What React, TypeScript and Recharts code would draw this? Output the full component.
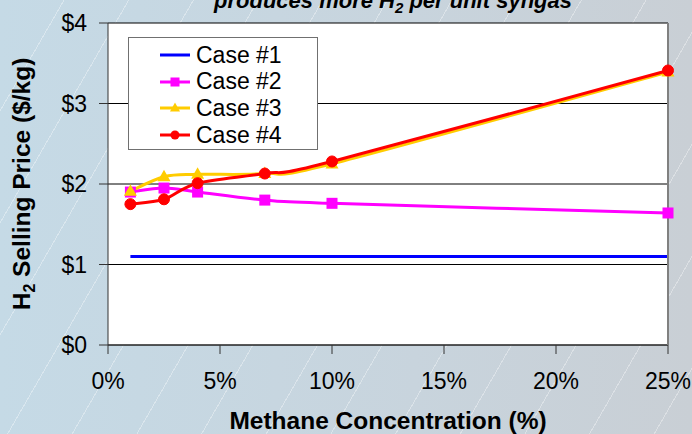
import { LineChart, Line, XAxis, YAxis, CartesianGrid, Legend, Label } from 'recharts';

const FONT = '"Liberation Sans", Arial, sans-serif';

// methane concentration (%) at each point
const methane = [1, 2.5, 4, 7, 10, 25];
// H2 selling price ($/kg)
const case1 = [1.1, 1.1, 1.1, 1.1, 1.1, 1.1];
const case2 = [1.9, 1.95, 1.9, 1.8, 1.76, 1.64];
const case3 = [1.91, 2.09, 2.12, 2.13, 2.25, 3.39];
const case4 = [1.75, 1.81, 2.01, 2.13, 2.28, 3.41];

const seriesNames = ['Case #1', 'Case #2', 'Case #3', 'Case #4'];
const seriesColors = ['#0000ff', '#ff00ff', '#ffcc00', '#ff0000'];

const xTicks = [0, 5, 10, 15, 20, 25];
const yTicks = [0, 1, 2, 3, 4];

const rows = methane.map((m, i) => ({
  methane: m,
  c1: case1[i],
  c2: case2[i],
  c3: case3[i],
  c4: case4[i],
}));

// Excel-style smoothed line (Catmull-Rom through the points)
const excelSmooth = (context: any) => {
  let pts: number[][] = [];
  return {
    areaStart() {},
    areaEnd() {},
    lineStart() {
      pts = [];
    },
    point(x: number, y: number) {
      pts.push([+x, +y]);
    },
    lineEnd() {
      const n = pts.length;
      if (!n) return;
      context.moveTo(pts[0][0], pts[0][1]);
      for (let i = 0; i < n - 1; i++) {
        const p0 = pts[Math.max(i - 1, 0)];
        const p1 = pts[i];
        const p2 = pts[i + 1];
        const p3 = pts[Math.min(i + 2, n - 1)];
        context.bezierCurveTo(
          p1[0] + (p2[0] - p0[0]) / 6,
          p1[1] + (p2[1] - p0[1]) / 6,
          p2[0] - (p3[0] - p1[0]) / 6,
          p2[1] - (p3[1] - p1[1]) / 6,
          p2[0],
          p2[1]
        );
      }
    },
  };
};

const SquareDot = (props: any) => {
  const { cx, cy, index } = props;
  return <rect key={`sq-${index}`} x={cx - 5.5} y={cy - 5.5} width={11} height={11} fill="#ff00ff" />;
};

const TriangleDot = (props: any) => {
  const { cx, cy, index } = props;
  return (
    <polygon
      key={`tri-${index}`}
      points={`${cx},${cy - 7} ${cx + 6.5},${cy + 4.5} ${cx - 6.5},${cy + 4.5}`}
      fill="#ffcc00"
    />
  );
};

function LegendMarker({ i }: { i: number }) {
  const c = seriesColors[i];
  return (
    <svg width={30} height={20} style={{ marginLeft: 31, marginRight: 6, display: 'block' }}>
      <line x1={0} x2={30} y1={10} y2={10} stroke={c} strokeWidth={3} />
      {i === 1 && <rect x={10.5} y={5.5} width={9} height={9} fill={c} />}
      {i === 2 && <polygon points="15,4.5 20,13.5 10,13.5" fill={c} />}
      {i === 3 && <circle cx={15} cy={10} r={4.5} fill={c} />}
    </svg>
  );
}

function LegendBox() {
  return (
    <div
      style={{
        width: 190,
        height: 113,
        boxSizing: 'border-box',
        border: '1px solid #707070',
        background: '#fff',
        paddingTop: 4,
      }}
    >
      {seriesNames.map((name, i) => (
        <div key={name} style={{ display: 'flex', alignItems: 'center', height: 26.6 }}>
          <LegendMarker i={i} />
          <span style={{ fontSize: 23, fontFamily: FONT, color: '#000', lineHeight: 1 }}>{name}</span>
        </div>
      ))}
    </div>
  );
}

function YTitle(props: any) {
  const vb = props.viewBox || { x: 0, y: 23, width: 108, height: 322 };
  const cx = 30;
  const cy = vb.y + vb.height / 2;
  return (
    <text
      x={cx}
      y={cy}
      transform={`rotate(-90, ${cx}, ${cy})`}
      textAnchor="middle"
      fontFamily={FONT}
      fontWeight="bold"
      fontSize={24.5}
      fill="#000"
    >
      H<tspan fontSize={16} dy={5}>2</tspan>
      <tspan dy={-5}> Selling Price ($/kg)</tspan>
    </text>
  );
}

export default function App() {
  return (
    <div
      style={{
        position: 'absolute',
        left: 0,
        top: 0,
        width: 692,
        height: 434,
        overflow: 'hidden',
        fontFamily: FONT,
        background:
          'repeating-linear-gradient(120deg, rgba(255,255,255,0) 0px, rgba(255,255,255,0) 55px, rgba(255,255,255,0.35) 55px, rgba(255,255,255,0.35) 56px), linear-gradient(90deg, #c5dae6 0%, #c8d4dd 60%, #c9cfd5 100%)',
      }}
    >
      <svg width={692} height={30} style={{ position: 'absolute', left: 0, top: 0 }}>
        <text x={393} y={8} textAnchor="middle" fontFamily={FONT} fontWeight="bold" fontStyle="italic" fontSize={22} fill="#000">
          produces more H<tspan fontSize={15} dy={5}>2</tspan>
          <tspan dy={-5}> per unit syngas</tspan>
        </text>
      </svg>
      <LineChart
        width={692}
        height={434}
        data={rows}
        margin={{ top: 23, right: 0, bottom: 0, left: 0 }}
        style={{ position: 'absolute', left: 0, top: 0 }}
      >
        <CartesianGrid vertical={false} stroke="#000" strokeWidth={1} fill="#fff" fillOpacity={1} />
        <XAxis
          dataKey="methane"
          type="number"
          domain={[0, 25]}
          ticks={xTicks}
          tickFormatter={(v: number) => `${v}%`}
          height={89}
          tickSize={9}
          tickMargin={19}
          stroke="#333"
          tick={{ fontSize: 23, fill: '#000', fontFamily: FONT }}
        >
          <Label
            value="Methane Concentration (%)"
            position="insideBottom"
            offset={5}
            style={{ fontSize: 24.5, fontWeight: 'bold', fill: '#000', fontFamily: FONT }}
          />
        </XAxis>
        <YAxis
          type="number"
          domain={[0, 4]}
          ticks={yTicks}
          tickFormatter={(v: number) => `$${v}`}
          width={108}
          tickSize={9}
          tickMargin={12}
          stroke="#333"
          tick={{ fontSize: 23, fill: '#000', fontFamily: FONT }}
        >
          <Label content={<YTitle />} />
        </YAxis>
        <YAxis yAxisId="r" orientation="right" domain={[0, 4]} width={24} tick={false} tickLine={false} stroke="#808080" strokeWidth={2} />
        <Legend
          layout="vertical"
          align="center"
          verticalAlign="middle"
          content={<LegendBox />}
          wrapperStyle={{ left: 128, top: 37, width: 190, height: 113 }}
        />
        <Line dataKey="c1" name={seriesNames[0]} stroke={seriesColors[0]} strokeWidth={3} dot={false} isAnimationActive={false} />
        <Line type={excelSmooth as any} dataKey="c2" name={seriesNames[1]} stroke={seriesColors[1]} strokeWidth={3} dot={<SquareDot />} isAnimationActive={false} />
        <Line type={excelSmooth as any} dataKey="c3" name={seriesNames[2]} stroke={seriesColors[2]} strokeWidth={3} dot={<TriangleDot />} isAnimationActive={false} />
        <Line
          type={excelSmooth as any}
          dataKey="c4"
          name={seriesNames[3]}
          stroke={seriesColors[3]}
          strokeWidth={3}
          dot={{ r: 5.5, fill: seriesColors[3], stroke: seriesColors[3], strokeWidth: 1 }}
          isAnimationActive={false}
        />
      </LineChart>
    </div>
  );
}
